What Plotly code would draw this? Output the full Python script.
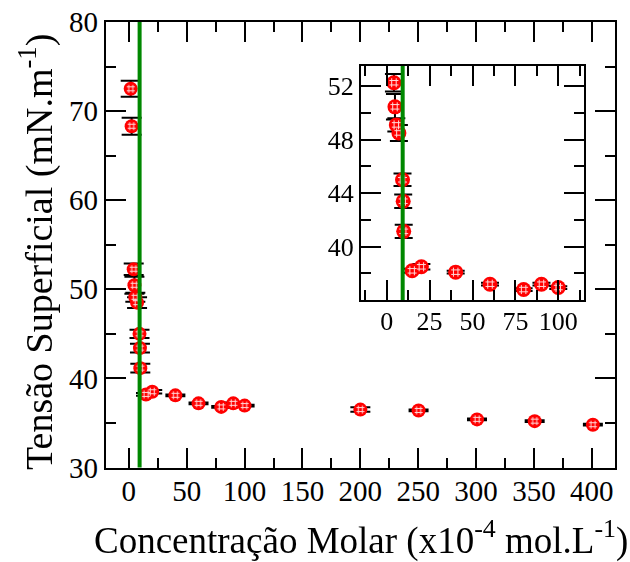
import plotly.graph_objects as go

# Data
conc = [1.6, 2.4, 4.2, 4.8, 5.6, 7.1, 9.2, 9.6, 9.9, 14.8, 20.2, 40.2, 60.2, 79.8, 90.2, 100.0,
        200.0, 250.3, 300.8, 350.6, 400.9]
tension = [72.5, 68.3, 52.25, 50.45, 49.1, 48.5, 45.0, 43.4, 41.15, 38.2, 38.5, 38.1, 37.2,
           36.8, 37.2, 36.95, 36.5, 36.4, 35.4, 35.2, 34.8]
err = [0.9, 0.95, 0.65, 0.95, 0.5, 0.6, 0.47, 0.5, 0.5, 0.15, 0.2, 0.1, 0.1, 0.1, 0.1, 0.1,
       0.25, 0.1, 0.1, 0.1, 0.1]
cmc = 9.3

inset_conc = conc[2:16]
inset_tension = tension[2:16]
inset_err = err[2:16]

FONT = "Liberation Serif, Times New Roman, Times, serif"
RED = "#ff0000"
GREEN = "#008800"

fig = go.Figure()

# main plot
fig.add_trace(go.Scatter(
    x=conc, y=tension, mode="markers",
    error_y=dict(type="data", array=err, color="black", thickness=2, width=10),
    marker=dict(symbol="circle", size=14, color=RED, line=dict(width=0)),
    xaxis="x", yaxis="y", showlegend=False))
fig.add_trace(go.Scatter(
    x=conc, y=tension, mode="markers",
    marker=dict(symbol="hash", size=8, color="white", line=dict(width=1, color="white")),
    xaxis="x", yaxis="y", showlegend=False, opacity=0.85))

# inset
fig.add_trace(go.Scatter(
    x=inset_conc, y=inset_tension, mode="markers",
    error_y=dict(type="data", array=inset_err, color="black", thickness=2, width=9),
    marker=dict(symbol="circle", size=15, color=RED, line=dict(width=0)),
    xaxis="x2", yaxis="y2", showlegend=False))
fig.add_trace(go.Scatter(
    x=inset_conc, y=inset_tension, mode="markers",
    marker=dict(symbol="hash", size=9, color="white", line=dict(width=1, color="white")),
    xaxis="x2", yaxis="y2", showlegend=False, opacity=0.85))

W, H = 630, 562
main_x = [105.7 / W, 615 / W]
main_y = [(H - 467.5) / H, (H - 22) / H]
ins_x = [361 / W, 584 / W]
ins_y = [(H - 300) / H, (H - 66) / H]

axis_common = dict(showgrid=False, zeroline=False, showline=True, linecolor="black",
                   linewidth=2, mirror="allticks", ticks="inside", ticklen=20,
                   tickwidth=2, tickcolor="black", automargin=False)

main_tick = dict(size=29, family=FONT, color="black")
ins_tick = dict(size=26, family=FONT, color="black")

fig.update_layout(
    template="none",
    width=W, height=H,
    margin=dict(l=0, r=0, t=0, b=0, pad=0),
    paper_bgcolor="white", plot_bgcolor="white",
    font=dict(family=FONT, color="black", size=29),
    xaxis=dict(domain=main_x, range=[-20, 420], tickmode="linear", tick0=0, dtick=50,
               tickfont=main_tick, anchor="y", ticklabelstandoff=-3,
               minor=dict(dtick=25, ticklen=10, tickwidth=2, ticks="inside", tickcolor="black"),
               **axis_common),
    yaxis=dict(domain=main_y, range=[30, 80], tickmode="linear", tick0=30, dtick=10,
               tickfont=main_tick, anchor="x",
               minor=dict(dtick=5, ticklen=10, tickwidth=2, ticks="inside", tickcolor="black"),
               **axis_common),
    xaxis2=dict(domain=ins_x, range=[-15, 115], tickmode="linear", tick0=0, dtick=25,
                tickfont=ins_tick, anchor="y2", ticklabelstandoff=-3,
                minor=dict(dtick=12.5, ticklen=10, tickwidth=2, ticks="inside", tickcolor="black"),
                **axis_common),
    yaxis2=dict(domain=ins_y, range=[36.02, 53.5], tickmode="array", tickvals=[40, 44, 48, 52],
                tickfont=ins_tick, anchor="x2",
                minor=dict(tickmode="array", tickvals=[38, 42, 46, 50], ticklen=10, tickwidth=2,
                           ticks="inside", tickcolor="black"),
                **axis_common),
    shapes=[
        dict(type="line", xref="x", yref="y domain", x0=cmc, x1=cmc, y0=0, y1=1,
             line=dict(color=GREEN, width=4), layer="above"),
        dict(type="line", xref="x2", yref="y2 domain", x0=cmc, x1=cmc, y0=0, y1=1,
             line=dict(color=GREEN, width=4), layer="above"),
    ],
    annotations=[
        dict(text="Concentração Molar (x10<sup>-4</sup> mol.L<sup>-1</sup>)",
             xref="paper", yref="paper", x=361 / W, y=(H - 538) / H,
             xanchor="center", yanchor="middle", showarrow=False,
             font=dict(size=37, family=FONT, color="black")),
        dict(text="Tensão Superficial (mN.m<sup>-1</sup>)",
             xref="paper", yref="paper", x=36 / W, y=(H - 252) / H,
             xanchor="center", yanchor="middle", showarrow=False, textangle=-90,
             font=dict(size=38, family=FONT, color="black")),
    ],
)

fig.write_html("out.html")
